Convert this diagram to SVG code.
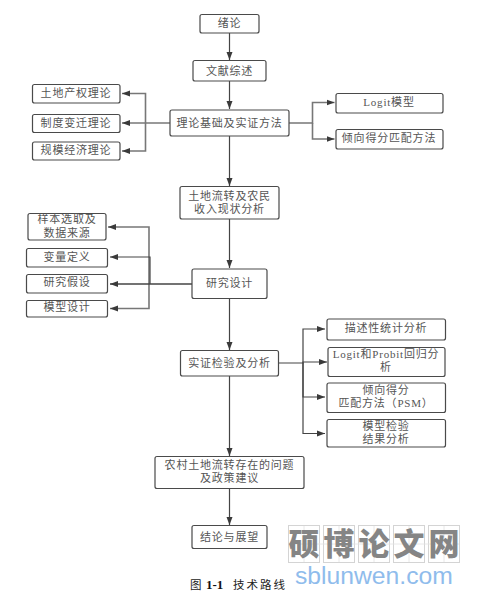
<svg xmlns="http://www.w3.org/2000/svg" width="477" height="596" viewBox="0 0 477 596">
<style>
.n rect{fill:#fff;stroke:#4a4a4a;stroke-width:1.2}
.n text{font-family:"Liberation Serif","Noto Sans CJK SC",serif;font-size:11px;fill:#555;text-anchor:middle;letter-spacing:.8px}
.c path{fill:none;stroke:#444;stroke-width:1.2}
.g path{stroke:#777;stroke-width:1.6}
.d{stroke-width:1.6!important}
.w rect{fill:#fff;stroke:#d4d4d4;stroke-width:1}
.w path{stroke:#e2e2e2;stroke-width:.8;fill:none}
.w text{font-family:"Noto Sans CJK SC",sans-serif;font-size:31px;font-weight:900;fill:#858585;text-anchor:middle}
</style>
<defs>
<marker id="a" viewBox="0 0 8 8" refX="8" refY="4" markerWidth="8" markerHeight="8" markerUnits="userSpaceOnUse" orient="auto"><path d="M0 1 L8 4 L0 7Z" fill="#3a3a3a"/></marker>
</defs>
<rect width="477" height="596" fill="#fff"/>
<g class="w" id="watermark">
<rect x="288.500" y="525.500" width="31" height="37"/><rect x="323.500" y="525.500" width="31" height="37"/><rect x="358.500" y="525.500" width="31" height="37"/><rect x="393.500" y="525.500" width="31" height="37"/><rect x="428.500" y="525.500" width="31" height="37"/>
<path d="M304 526V562M339 526V562M374 526V562M409 526V562M444 526V562M289 544H459"/>
<text x="304" y="555">硕</text><text x="339" y="555">博</text><text x="374" y="555">论</text><text x="409" y="555">文</text><text x="444" y="555">网</text>
</g>
<g class="c" id="connectors">
<path d="M229.500 33V60" marker-end="url(#a)"/>
<path d="M229.500 81V109" marker-end="url(#a)"/>
<path d="M229.500 136V186" marker-end="url(#a)"/>
<path d="M229.500 219V268" marker-end="url(#a)"/>
<path d="M229.500 298V350" marker-end="url(#a)"/>
<path d="M229.500 376V456" marker-end="url(#a)"/>
<path d="M229.500 488V525" marker-end="url(#a)"/>
<g class="g">
<path d="M170 123H122" marker-end="url(#a)"/>
<path d="M145.500 123V93.500H122" marker-end="url(#a)"/>
<path d="M145.500 123V151H122" marker-end="url(#a)"/>
<path d="M289 123H312.500V102.500H334.500" marker-end="url(#a)"/>
<path d="M312.500 123V139H334.500" marker-end="url(#a)"/>
<path d="M149 284V227H108" marker-end="url(#a)"/>
<path d="M149 284V308.500H110" marker-end="url(#a)"/>
</g>
<path class="d" d="M192 284H110" marker-end="url(#a)"/>
<path d="M150 284V257H110" marker-end="url(#a)"/>
<path d="M278.500 363H303V362H327" marker-end="url(#a)"/>
<path d="M303 363V329H325" marker-end="url(#a)"/>
<path d="M303 363V433.500H325" marker-end="url(#a)"/>
<path d="M303 363V397H325" marker-end="url(#a)"/>
</g>
<g class="n" id="n1"><rect x="200" y="14.500" width="59" height="18.500" rx="2"/><text x="229.500" y="27.300">绪论</text></g>
<g class="n" id="n2"><rect x="193" y="60.500" width="73" height="20.500" rx="2"/><text x="229.500" y="74.700">文献综述</text></g>
<g class="n" id="n3"><rect x="170" y="110" width="119" height="26" rx="2"/><text x="229.500" y="126.700">理论基础及实证方法</text></g>
<g class="n" id="n4"><rect x="32.500" y="84.500" width="87.500" height="18.500" rx="2"/><text x="76" y="97.300">土地产权理论</text></g>
<g class="n" id="n5"><rect x="32.500" y="114.500" width="87.500" height="18" rx="2"/><text x="76" y="126.700">制度变迁理论</text></g>
<g class="n" id="n6"><rect x="32.500" y="142" width="87.500" height="18" rx="2"/><text x="76" y="154.300">规模经济理论</text></g>
<g class="n" id="n7"><rect x="336" y="93.500" width="107" height="19.500" rx="2"/><text x="389" y="106.300">Logit模型</text></g>
<g class="n" id="n8"><rect x="336" y="129.500" width="107" height="19.500" rx="2"/><text x="389" y="142.300">倾向得分匹配方法</text></g>
<g class="n" id="n9"><rect x="180" y="186.500" width="99" height="32.500" rx="2"/><text x="229.500" y="200">土地流转及农民</text><text x="229.500" y="212.500">收入现状分析</text></g>
<g class="n" id="n10"><rect x="28" y="213.500" width="78" height="26.500" rx="2"/><text x="67" y="223">样本选取及</text><text x="67" y="236.700">数据来源</text></g>
<g class="n" id="n11"><rect x="26.500" y="248.500" width="81" height="18.500" rx="2"/><text x="67" y="260.700">变量定义</text></g>
<g class="n" id="n12"><rect x="26.500" y="274.500" width="81" height="18.500" rx="2"/><text x="67" y="286.300">研究假设</text></g>
<g class="n" id="n13"><rect x="26.500" y="300.500" width="81" height="16.500" rx="2"/><text x="67" y="311.300">模型设计</text></g>
<g class="n" id="n14"><rect x="192" y="269" width="75" height="29.500" rx="2"/><text x="229.500" y="286.700">研究设计</text></g>
<g class="n" id="n15"><rect x="180.500" y="350.500" width="98" height="25.500" rx="2"/><text x="229.500" y="366.700">实证检验及分析</text></g>
<g class="n" id="n16"><rect x="327" y="319" width="118.500" height="21" rx="2"/><text x="386" y="332.300">描述性统计分析</text></g>
<g class="n" id="n17"><rect x="328" y="347.500" width="117" height="29" rx="2"/><text x="386" y="358.300">Logit和Probit回归分</text><text x="386" y="371.300">析</text></g>
<g class="n" id="n18"><rect x="327" y="383" width="118.500" height="29.500" rx="2"/><text x="386" y="394">倾向得分</text><text x="386" y="407">匹配方法（PSM）</text></g>
<g class="n" id="n19"><rect x="327" y="419.500" width="118.500" height="27.500" rx="2"/><text x="386" y="429.700">模型检验</text><text x="386" y="443">结果分析</text></g>
<g class="n" id="n20"><rect x="155" y="456.500" width="149" height="32" rx="2"/><text x="229.500" y="469.300">农村土地流转存在的问题</text><text x="229.500" y="482.300">及政策建议</text></g>
<g class="n" id="n21"><rect x="192" y="525.500" width="75" height="23" rx="2"/><text x="229.500" y="540.700">结论与展望</text></g>
<text x="190" y="589" font-family="'Noto Sans CJK SC',sans-serif" font-size="11.500px" fill="#222">图</text>
<text x="206" y="589" font-family="'Liberation Serif',serif" font-size="13px" font-weight="700" fill="#111">1-1</text>
<text x="233" y="589" font-family="'Noto Sans CJK SC',sans-serif" font-size="11.500px" letter-spacing="2" fill="#222">技术路线</text>
<text x="295" y="584" font-family="'Liberation Sans',sans-serif" font-size="24.700px" fill="#8fbcec">sblunwen.com</text>
</svg>
